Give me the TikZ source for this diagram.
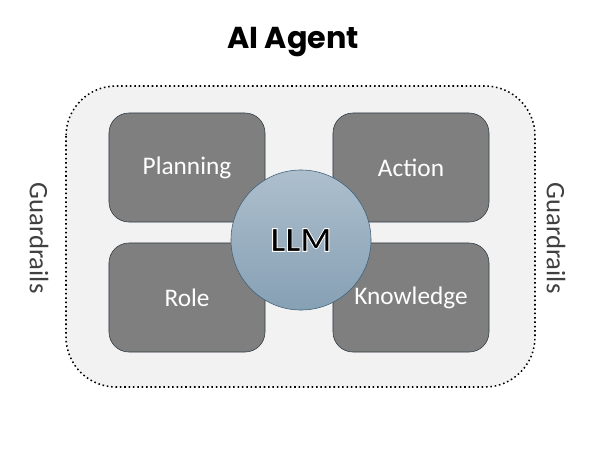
\documentclass[tikz,border=0pt]{standalone}
\usepackage{fontspec}
\setmainfont{Carlito}
\newfontfamily\titlefont{Poppins}
\newcommand{\outlined}[1]{\special{pdf:literal direct 2 Tr 0.6 w 1 1 1 RG}#1\special{pdf:literal direct 0 Tr}}
\definecolor{panelgray}{HTML}{F2F2F2}
\definecolor{boxgray}{HTML}{7F7F7F}
\definecolor{boxedge}{HTML}{2F3B45}
\definecolor{llmtop}{HTML}{ADBFCD}
\definecolor{llmbottom}{HTML}{86A0B4}
\definecolor{llmedge}{HTML}{3E5F78}
\definecolor{railtext}{HTML}{404040}
\tikzset{
  part/.style = {draw = boxedge, fill = boxgray, rounded corners = 0.5cm, minimum width = 3.9cm, minimum height = 2.725cm, text = white, font = \fontsize{18}{20}\selectfont},
  rail/.style = {rotate = -90, text = railtext, font = \fontsize{19}{22}\selectfont}
}
\begin{document}
\begin{tikzpicture}[x = 0.025cm, y = -0.025cm]
\useasboundingbox (0,0) rectangle (604,453);
\filldraw[fill = panelgray, draw = black, dotted, line width = 1.1pt, rounded corners = 1.25cm] (66,86) rectangle (535,387);
\node[font = \titlefont\bfseries\fontsize{21.5}{24}\selectfont] (title) at (293,42) {AI Agent};
\node[part] (planning) at (187,167.5) {Planning};
\node[part] (action) at (411,167.5) {Action};
\node[part] (role) at (187,297.5) {Role};
\node[part] (knowledge) at (411,297.5) {Knowledge};
\node[circle, draw = llmedge, top color = llmtop, bottom color = llmbottom, minimum size = 3.5cm, inner sep = 0pt, font = \bfseries\fontsize{25}{28}\selectfont] (llm) at (301,240) {\outlined{LLM}};
\node[rail] (leftrail) at (39,238) {Guardrails};
\node[rail] (rightrail) at (556,238) {Guardrails};
\end{tikzpicture}
\end{document}
